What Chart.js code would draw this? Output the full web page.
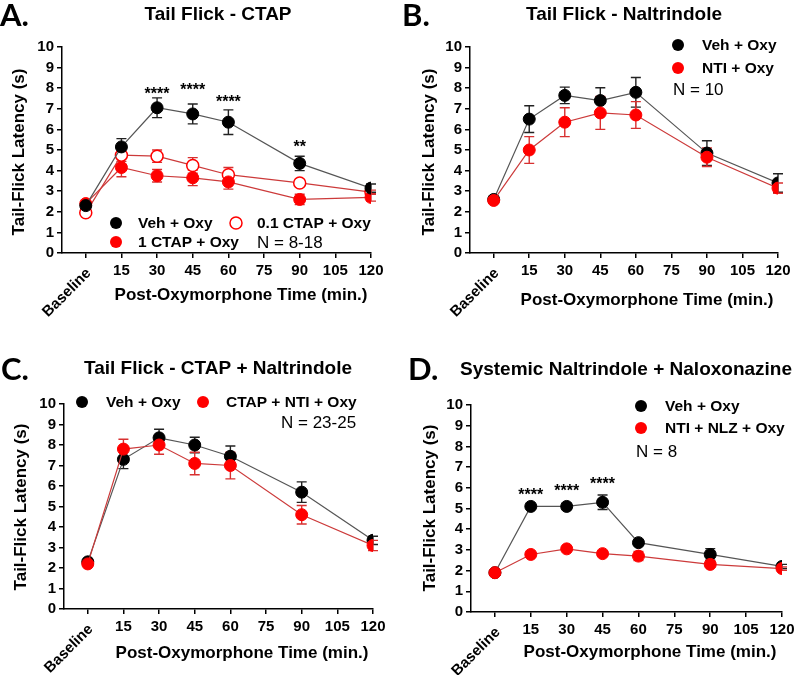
<!DOCTYPE html>
<html>
<head>
<meta charset="utf-8">
<script src="https://cdn.jsdelivr.net/npm/chart.js@4/dist/chart.umd.min.js"></script>
<style>
  html, body { margin: 0; padding: 0; background: #fff; }
  #wrap { position: relative; width: 800px; height: 675px; }
  canvas { position: absolute; }
</style>
</head>
<body>
<div id="wrap">
  <canvas id="cA" width="400" height="330" style="left:0;top:0"></canvas>
  <canvas id="cB" width="400" height="330" style="left:400px;top:0"></canvas>
  <canvas id="cC" width="400" height="345" style="left:0;top:330px"></canvas>
  <canvas id="cD" width="400" height="345" style="left:400px;top:330px"></canvas>
</div>
<script>
// time points (0 = Baseline) and axis ticks
const times = [0, 15, 30, 45, 60, 90, 120];
const xTicks = [0, 15, 30, 45, 60, 75, 90, 105, 120];

// A. Tail Flick - CTAP
const aVeh      = [2.3, 5.15, 7.05, 6.75, 6.35, 4.35, 3.15];
const aVehErr   = [0.15, 0.4, 0.48, 0.48, 0.6, 0.35, 0.2];
const aCtap01   = [1.95, 4.75, 4.7, 4.25, 3.8, 3.4, 2.95];
const aCtap01Err= [0.1, 0.3, 0.3, 0.38, 0.35, 0.1, 0.1];
const aCtap1    = [2.4, 4.15, 3.75, 3.65, 3.45, 2.6, 2.7];
const aCtap1Err = [0.1, 0.45, 0.3, 0.38, 0.35, 0.25, 0.18];
const aStars    = [{x: 30, y: 7.9, t: '****'}, {x: 45, y: 8.1, t: '****'}, {x: 60, y: 7.48, t: '****'}, {x: 90, y: 5.29, t: '**'}];

// B. Tail Flick - Naltrindole
const bVeh    = [2.6, 6.5, 7.65, 7.4, 7.8, 4.85, 3.4];
const bVehErr = [0.1, 0.65, 0.4, 0.62, 0.72, 0.6, 0.45];
const bNti    = [2.55, 5.0, 6.35, 6.8, 6.7, 4.65, 3.15];
const bNtiErr = [0.1, 0.65, 0.7, 0.8, 0.65, 0.45, 0.25];

// C. Tail Flick - CTAP + Naltrindole
const cVeh    = [2.3, 7.3, 8.35, 8.0, 7.45, 5.7, 3.35];
const cVehErr = [0.1, 0.45, 0.42, 0.38, 0.5, 0.5, 0.2];
const cMix    = [2.2, 7.8, 8.0, 7.1, 7.0, 4.6, 3.1];
const cMixErr = [0.1, 0.48, 0.45, 0.55, 0.65, 0.45, 0.25];

// D. Systemic Naltrindole + Naloxonazine
const dVeh    = [1.9, 5.1, 5.1, 5.3, 3.35, 2.78, 2.2];
const dVehErr = [0.05, 0.05, 0.15, 0.35, 0.1, 0.28, 0.1];
const dMix    = [1.9, 2.78, 3.05, 2.82, 2.7, 2.3, 2.1];
const dMixErr = [0.05, 0.1, 0.1, 0.1, 0.22, 0.1, 0.08];
const dStars  = [{x: 15, y: 5.8, t: '****'}, {x: 30, y: 6.0, t: '****'}, {x: 45, y: 6.33, t: '****'}];

const FONT = '"Liberation Sans", Arial, sans-serif';
const RED = '#ff0000';

function series(label, vals, err, color, lineColor, hollow, order) {
  return {
    label,
    data: times.map((t, i) => ({x: t, y: vals[i]})),
    err,
    errColor: color === RED ? '#d83030' : '#222',
    borderColor: lineColor,
    borderWidth: 1.2,
    pointRadius: 6,
    pointHoverRadius: 6,
    pointBackgroundColor: hollow ? '#fff' : color,
    pointBorderColor: color,
    pointBorderWidth: hollow ? 1.5 : 1,
    tension: 0,
    order
  };
}

const decor = {
  id: 'decor',
  beforeDatasetsDraw(chart) {
    const ctx = chart.ctx, ys = chart.scales.y;
    chart.data.datasets.forEach((ds, i) => {
      const meta = chart.getDatasetMeta(i);
      ctx.save();
      ctx.strokeStyle = ds.errColor;
      ctx.lineWidth = 1.4;
      ds.data.forEach((p, j) => {
        const x = meta.data[j].x;
        const y1 = ys.getPixelForValue(p.y + ds.err[j]);
        const y2 = ys.getPixelForValue(p.y - ds.err[j]);
        ctx.beginPath();
        ctx.moveTo(x, y1); ctx.lineTo(x, y2);
        ctx.moveTo(x - 5, y1); ctx.lineTo(x + 5, y1);
        ctx.moveTo(x - 5, y2); ctx.lineTo(x + 5, y2);
        ctx.stroke();
      });
      ctx.restore();
    });
  },
  afterDraw(chart, args, o) {
    const ctx = chart.ctx, xs = chart.scales.x, ys = chart.scales.y;
    ctx.save();
    ctx.fillStyle = '#000';
    // panel letter
    ctx.font = 'bold 31px Lato, "Open Sans", sans-serif';
    ctx.textAlign = 'left'; ctx.textBaseline = 'alphabetic';
    ctx.fillText(o.letter, o.letterPos[0], o.letterPos[1]);
    // panel title
    ctx.font = 'bold 19px ' + FONT;
    ctx.textAlign = 'center'; ctx.textBaseline = 'middle';
    ctx.fillText(o.title, o.titlePos[0], o.titlePos[1]);
    // axis titles
    ctx.font = 'bold 17px ' + FONT;
    ctx.fillText('Post-Oxymorphone Time (min.)', o.xTitle[0], o.xTitle[1]);
    ctx.save();
    ctx.translate(o.yTitle[0], o.yTitle[1]);
    ctx.rotate(-Math.PI / 2);
    ctx.fillText('Tail-Flick Latency (s)', 0, 0);
    ctx.restore();
    // rotated Baseline tick label
    ctx.save();
    ctx.font = 'bold 15px ' + FONT;
    ctx.translate(xs.getPixelForValue(0) + 3, chart.chartArea.bottom + 18);
    ctx.rotate(-Math.PI / 4);
    ctx.textAlign = 'right';
    ctx.fillText('Baseline', 0, 0);
    ctx.restore();
    // significance stars
    ctx.font = 'bold 16px ' + FONT;
    (o.stars || []).forEach(s => {
      ctx.fillText(s.t, xs.getPixelForValue(s.x), ys.getPixelForValue(s.y) + 4);
    });
    // legend
    ctx.textAlign = 'left';
    o.legend.forEach(it => {
      ctx.beginPath();
      ctx.arc(it.x, it.y, 6, 0, Math.PI * 2);
      if (it.hollow) {
        ctx.fillStyle = '#fff'; ctx.fill();
        ctx.strokeStyle = it.color; ctx.lineWidth = 1.5; ctx.stroke();
      } else {
        ctx.fillStyle = it.color; ctx.fill();
      }
      ctx.fillStyle = '#000';
      ctx.font = 'bold 15.5px ' + FONT;
      ctx.fillText(it.label, it.lx, it.y + 1);
    });
    ctx.font = '17px ' + FONT;
    ctx.fillText(o.note, o.notePos[0], o.notePos[1]);
    ctx.restore();
  }
};

function makeChart(id, area, datasets, deco) {
  const H = document.getElementById(id).height;
  const tickFont = {family: FONT, size: 15, weight: 'bold'};
  return new Chart(document.getElementById(id), {
    type: 'line',
    data: {datasets},
    plugins: [decor],
    options: {
      responsive: false,
      animation: false,
      layout: {padding: {left: 0, top: area.t, right: 400 - area.r, bottom: 0}},
      plugins: {legend: {display: false}, tooltip: {enabled: false}, decor: deco},
      scales: {
        x: {
          type: 'linear', min: -10, max: 120,
          afterBuildTicks: s => { s.ticks = xTicks.map(v => ({value: v})); },
          afterFit: s => { s.height = H - area.b; },
          ticks: {callback: v => v === 0 ? '' : v, font: tickFont, color: '#000', padding: 4, maxRotation: 0, autoSkip: false},
          grid: {drawOnChartArea: false, tickLength: 5, color: '#000', lineWidth: 1.5},
          border: {color: '#000', width: 1.5}
        },
        y: {
          min: 0, max: 10,
          afterFit: s => { s.width = area.l; },
          ticks: {stepSize: 1, font: tickFont, color: '#000', padding: 3, autoSkip: false},
          grid: {drawOnChartArea: false, tickLength: 5, color: '#000', lineWidth: 1.5},
          border: {color: '#000', width: 1.5}
        }
      }
    }
  });
}

const GRAY = '#555';
const DRED = '#cc3a3a';

makeChart('cA', {l: 62, r: 371, t: 47, b: 253}, [
  series('Veh + Oxy', aVeh, aVehErr, '#000', GRAY, false, 0),
  series('0.1 CTAP + Oxy', aCtap01, aCtap01Err, RED, DRED, true, 2),
  series('1 CTAP + Oxy', aCtap1, aCtap1Err, RED, DRED, false, 1)
], {
  letter: 'A.', letterPos: [0, 26], title: 'Tail Flick - CTAP', titlePos: [218, 15],
  xTitle: [241, 295], yTitle: [19, 152], stars: aStars,
  legend: [
    {x: 116, y: 223, color: '#000', label: 'Veh + Oxy', lx: 138},
    {x: 236, y: 223, color: RED, hollow: true, label: '0.1 CTAP + Oxy', lx: 257},
    {x: 116, y: 242, color: RED, label: '1 CTAP + Oxy', lx: 138}
  ],
  note: 'N = 8-18', notePos: [257, 243]
});

makeChart('cB', {l: 70, r: 378, t: 47, b: 253}, [
  series('Veh + Oxy', bVeh, bVehErr, '#000', GRAY, false, 1),
  series('NTI + Oxy', bNti, bNtiErr, RED, DRED, false, 0)
], {
  letter: 'B.', letterPos: [2, 26], title: 'Tail Flick - Naltrindole', titlePos: [224, 15],
  xTitle: [247, 300], yTitle: [29, 152],
  legend: [
    {x: 278, y: 45, color: '#000', label: 'Veh + Oxy', lx: 302},
    {x: 278, y: 68, color: RED, label: 'NTI + Oxy', lx: 302}
  ],
  note: 'N = 10', notePos: [273, 90]
});

makeChart('cC', {l: 64, r: 373, t: 74, b: 279}, [
  series('Veh + Oxy', cVeh, cVehErr, '#000', GRAY, false, 1),
  series('CTAP + NTI + Oxy', cMix, cMixErr, RED, DRED, false, 0)
], {
  letter: 'C.', letterPos: [1, 50], title: 'Tail Flick - CTAP + Naltrindole', titlePos: [218, 39],
  xTitle: [242, 323], yTitle: [21, 177],
  legend: [
    {x: 82, y: 72, color: '#000', label: 'Veh + Oxy', lx: 106},
    {x: 203, y: 72, color: RED, label: 'CTAP + NTI + Oxy', lx: 226}
  ],
  note: 'N = 23-25', notePos: [281, 93]
});

makeChart('cD', {l: 71, r: 382, t: 75, b: 282}, [
  series('Veh + Oxy', dVeh, dVehErr, '#000', GRAY, false, 1),
  series('NTI + NLZ + Oxy', dMix, dMixErr, RED, DRED, false, 0)
], {
  letter: 'D.', letterPos: [8, 50], title: 'Systemic Naltrindole + Naloxonazine', titlePos: [226, 40],
  xTitle: [250, 322], yTitle: [30, 178], stars: dStars,
  legend: [
    {x: 241, y: 76, color: '#000', label: 'Veh + Oxy', lx: 265},
    {x: 241, y: 98, color: RED, label: 'NTI + NLZ + Oxy', lx: 265}
  ],
  note: 'N = 8', notePos: [236, 122]
});
</script>
</body>
</html>
